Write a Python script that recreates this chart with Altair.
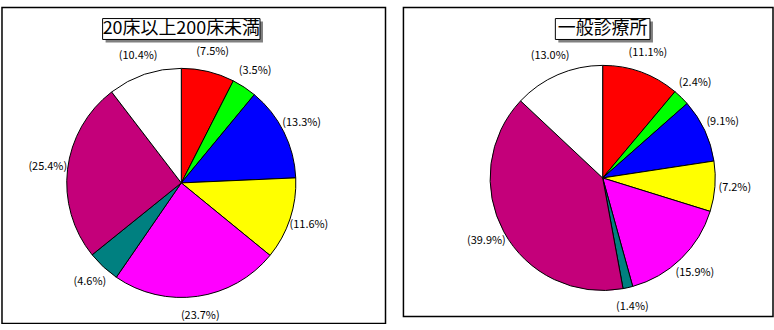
import altair as alt
import pandas as pd

categories = ["c1", "c2", "c3", "c4", "c5", "c6", "c7", "c8"]
colors = ["#FF0000", "#00FF00", "#0000FF", "#FFFF00", "#FF00FF", "#008080", "#C4007A", "#FFFFFF"]

title_left = "20床以上200床未満"
values_left = [7.5, 3.5, 13.3, 11.6, 23.7, 4.6, 25.4, 10.4]

title_right = "一般診療所"
values_right = [11.1, 2.4, 9.1, 7.2, 15.9, 1.4, 39.9, 13.0]


def make_df(values):
    return pd.DataFrame({
        "cat": categories,
        "order": list(range(len(categories))),
        "value": values,
        "label": [f"({v:.1f}%)" for v in values],
    })


def panel(values, title, w, h, cx, cy, r, box_w):
    df = make_df(values)
    base = alt.Chart(df).encode(
        theta=alt.Theta("value:Q", stack=True),
        order=alt.Order("order:Q"),
    )
    pie = base.mark_arc(stroke="black", strokeWidth=1, outerRadius=r).encode(
        color=alt.Color("cat:N", scale=alt.Scale(domain=categories, range=colors), legend=None),
        x=alt.value(cx), y=alt.value(cy),
    )
    labels = base.mark_text(radius=r + 20, font="Noto Sans CJK JP", fontSize=11, color="black").encode(
        text="label:N", x=alt.value(cx), y=alt.value(cy),
    )
    ty = 21
    shadow = alt.Chart(df).mark_rect(color="#808080").encode(
        x=alt.value(cx - box_w / 2 + 3), x2=alt.value(cx + box_w / 2 + 3),
        y=alt.value(ty - 10 + 3), y2=alt.value(ty + 11 + 3),
    ).transform_filter("datum.order == 0")
    box = alt.Chart(df).mark_rect(color="white", stroke="black", strokeWidth=1).encode(
        x=alt.value(cx - box_w / 2), x2=alt.value(cx + box_w / 2),
        y=alt.value(ty - 10), y2=alt.value(ty + 11),
    ).transform_filter("datum.order == 0")
    ttl = alt.Chart(df).mark_text(font="Noto Sans CJK JP", fontSize=18, color="black", baseline="middle").encode(
        x=alt.value(cx), y=alt.value(ty), text=alt.value(title),
    ).transform_filter("datum.order == 0")
    return alt.layer(pie, labels, shadow, box, ttl).properties(width=w, height=h)


left = panel(values_left, title_left, 385, 317, 180, 176, 115, 158)
right = panel(values_right, title_right, 371, 310, 200, 171, 113, 95)

chart = alt.hconcat(left, right, spacing=16).properties(
    padding={"left": 1, "top": 6, "right": 0, "bottom": 0},
    background="white",
).configure_view(stroke="black", strokeWidth=1.5).resolve_scale(theta="independent", color="independent")

chart.save("out.html", embed_options={"renderer": "svg", "actions": False})
